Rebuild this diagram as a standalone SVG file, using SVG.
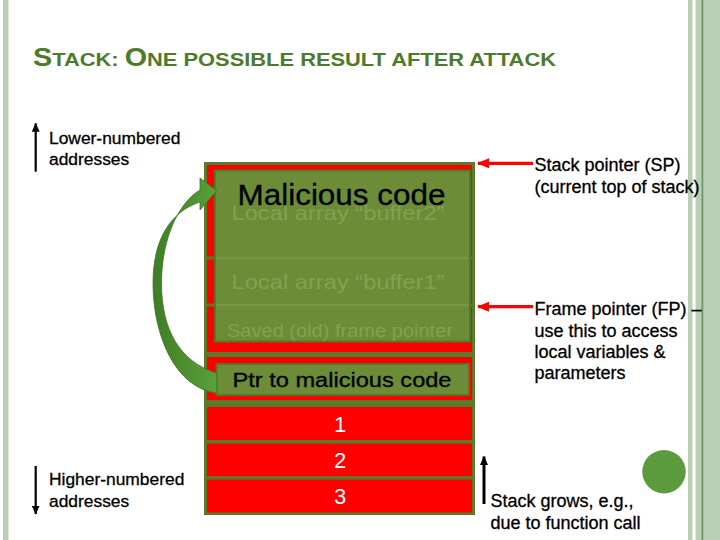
<svg xmlns="http://www.w3.org/2000/svg" width="720" height="540" viewBox="0 0 720 540">
<defs>
<style>
.t{font-family:"Liberation Sans",Arial,sans-serif;fill:#000;stroke:#000;stroke-width:0.3}
.title{font-family:"Liberation Sans",Arial,sans-serif;font-weight:bold;fill:#4e7a2c;font-size:19px}
.lab{font-size:18px}
.side{font-size:17.4px}
.red{fill:#ff0000}
.frame{fill:#5b7a2c}
.over{fill:#6c8c37;stroke:#587629;stroke-width:2}
.faint{font-family:"Liberation Sans",Arial,sans-serif;fill:#80a350;text-anchor:middle}
.num{font-family:"Liberation Sans",Arial,sans-serif;fill:#fff;font-size:22px;text-anchor:middle}
.bar{fill:#b9cfb6}
</style>
<marker id="rh" markerUnits="userSpaceOnUse" markerWidth="12" markerHeight="10" refX="11" refY="5" orient="auto"><path d="M0,0 L12,5 L0,10 Z" fill="#ff0000"/></marker>
<marker id="bh" markerUnits="userSpaceOnUse" markerWidth="9" markerHeight="8" refX="8.5" refY="4" orient="auto"><path d="M0,0 L9,4 L0,8 Z" fill="#000"/></marker>
<linearGradient id="ga" x1="0" y1="0" x2="1" y2="0"><stop offset="0" stop-color="#3f7d25"/><stop offset="1" stop-color="#5aa03b"/></linearGradient>
</defs>
<rect width="720" height="540" fill="#fff"/>
<g id="border">
<rect class="bar" x="3" y="0" width="5.5" height="540"/>
<rect class="bar" x="688" y="0" width="4.5" height="540"/>
<rect class="bar" x="695.5" y="0" width="24.5" height="540"/>
<rect x="701.5" y="0" width="1.8" height="540" fill="#6f9a5d"/>
</g>
<text class="title" x="33" y="66" textLength="523" lengthAdjust="spacingAndGlyphs"><tspan font-size="25">S</tspan>TACK: <tspan font-size="25">O</tspan>NE POSSIBLE RESULT AFTER ATTACK</text>
<g id="stack">
<rect class="frame" x="204" y="162" width="271" height="353"/>
<rect class="red" x="207" y="165" width="265" height="91.5"/>
<rect class="red" x="207" y="259.5" width="265" height="44"/>
<rect class="red" x="207" y="306.5" width="265" height="45.5"/>
<rect class="red" x="207" y="357" width="265" height="43"/>
<rect class="red" x="207" y="407" width="265" height="33"/>
<rect class="red" x="207" y="443.5" width="265" height="32.5"/>
<rect class="red" x="207" y="479.5" width="265" height="33"/>
</g>
<g id="malicious">
<rect class="over" x="215" y="170.5" width="255" height="171"/>
<line x1="216" y1="258" x2="469" y2="258" stroke="#7c9b48" stroke-width="1.5"/>
<line x1="216" y1="305" x2="469" y2="305" stroke="#7c9b48" stroke-width="1.5"/>
<text class="faint" x="338" y="219.5" font-size="21" textLength="213" lengthAdjust="spacingAndGlyphs">Local array “buffer2”</text>
<text class="faint" x="338" y="289" font-size="21" textLength="213" lengthAdjust="spacingAndGlyphs">Local array “buffer1”</text>
<text class="faint" x="340" y="337" font-size="18" textLength="226" lengthAdjust="spacingAndGlyphs">Saved (old) frame pointer</text>
<text class="t" x="341.5" y="205" font-size="29" text-anchor="middle" textLength="208" lengthAdjust="spacingAndGlyphs">Malicious code</text>
</g>
<g id="ptr">
<rect class="over" x="216.5" y="364" width="252.5" height="31"/>
<text class="t" x="342" y="386.5" font-size="20" text-anchor="middle" textLength="219" lengthAdjust="spacingAndGlyphs">Ptr to malicious code</text>
</g>
<g id="params">
<text class="num" x="340" y="432">1</text>
<text class="num" x="340" y="468">2</text>
<text class="num" x="340" y="504">3</text>
</g>
<g id="connectors">
<path d="M216.7,393 C175,388 153,335 153,283 C153,240 170,212 200,202 L200,210 L216.7,190.7 L200,178 L200,190 C178,203 161.5,240 161.5,283 C161.5,330 180,362 216.7,373 Z" fill="url(#ga)" stroke="#3e7624" stroke-width="0.8"/>
<line x1="533" y1="163.3" x2="478" y2="163.3" stroke="#ff0000" stroke-width="3.3" marker-end="url(#rh)"/>
<line x1="533" y1="306.7" x2="478" y2="306.7" stroke="#ff0000" stroke-width="3.3" marker-end="url(#rh)"/>
<line x1="484" y1="504" x2="484" y2="456.5" stroke="#000" stroke-width="3" marker-end="url(#bh)"/>
<line x1="35.7" y1="171.7" x2="35.7" y2="123.3" stroke="#000" stroke-width="2.2" marker-end="url(#bh)"/>
<line x1="35.7" y1="466" x2="35.7" y2="514" stroke="#000" stroke-width="2.2" marker-end="url(#bh)"/>
</g>
<g id="labels">
<text class="t side" x="49" y="144.3">Lower-numbered</text>
<text class="t side" x="49" y="165">addresses</text>
<text class="t side" x="49" y="485">Higher-numbered</text>
<text class="t side" x="49" y="506.7">addresses</text>
<text class="t lab" x="534.5" y="171">Stack pointer (SP)</text>
<text class="t lab" x="534.5" y="192.7">(current top of stack)</text>
<text class="t lab" x="534.5" y="315">Frame pointer (FP) –</text>
<text class="t lab" x="534.5" y="336.7">use this to access</text>
<text class="t lab" x="534.5" y="358.3">local variables &amp;</text>
<text class="t lab" x="534.5" y="379.3">parameters</text>
<text class="t lab" x="490.5" y="507.3">Stack grows, e.g.,</text>
<text class="t lab" x="490.5" y="529.3">due to function call</text>
</g>
<g id="dot">
<circle cx="664" cy="471.7" r="21.7" fill="#5b9a3d"/>
</g>
</svg>
